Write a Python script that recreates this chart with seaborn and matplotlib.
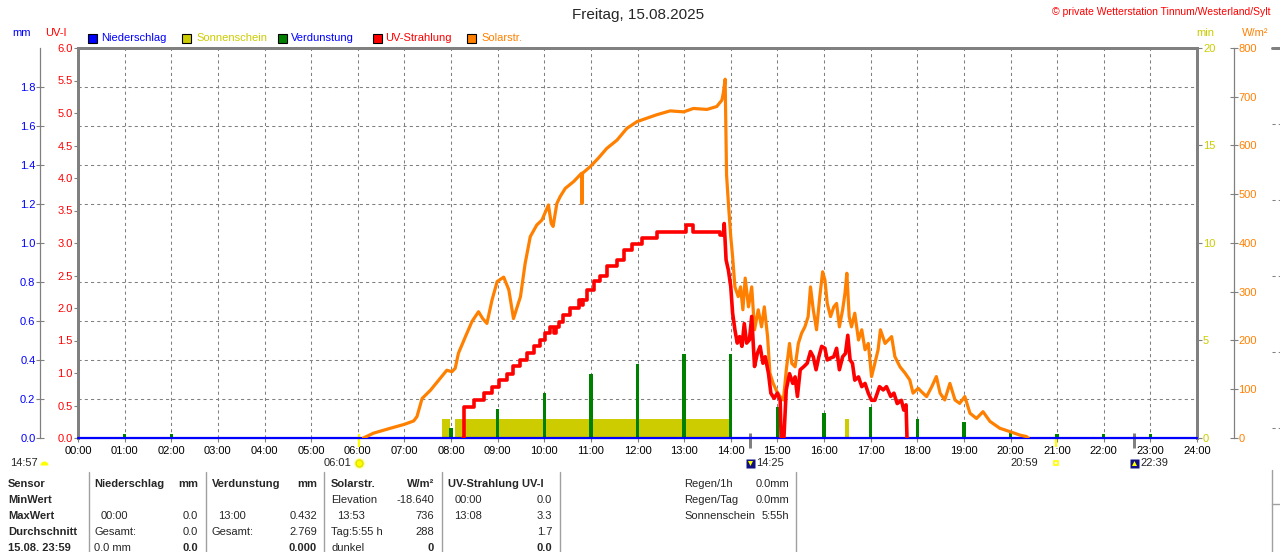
import numpy as np
import pandas as pd
import matplotlib
matplotlib.use("Agg")
import matplotlib.pyplot as plt
import seaborn as sns
from matplotlib.lines import Line2D
from matplotlib.patches import Rectangle
from matplotlib.ticker import FixedLocator

# ---------------- data ----------------
solar_time = [6.12, 6.34, 6.70, 7.00, 7.20, 7.27, 7.38, 7.56, 7.74, 7.91, 8.02, 8.09, 8.16, 8.31,
              8.45, 8.59, 8.68, 8.77, 8.88, 8.99, 9.13, 9.24, 9.34, 9.49, 9.59, 9.70, 9.84, 9.95,
              10.09, 10.15, 10.19, 10.27, 10.34, 10.45, 10.63, 10.80, 10.81, 10.82, 10.99, 11.16,
              11.34, 11.56, 11.77, 11.99, 12.20, 12.41, 12.70, 12.99, 13.20, 13.49, 13.70, 13.81,
              13.84, 13.88, 13.91, 13.95, 14.00, 14.04, 14.09, 14.16, 14.21, 14.26, 14.31, 14.38,
              14.45, 14.51, 14.59, 14.66, 14.72, 14.79, 14.84, 14.91, 14.99, 15.06, 15.13, 15.19,
              15.26, 15.31, 15.38, 15.45, 15.52, 15.59, 15.66, 15.71, 15.77, 15.84, 15.91, 15.97,
              16.02, 16.07, 16.14, 16.21, 16.27, 16.33, 16.40, 16.45, 16.49, 16.54, 16.59, 16.66,
              16.74, 16.81, 16.88, 16.95, 17.02, 17.09, 17.16, 17.21, 17.31, 17.38, 17.45, 17.52,
              17.63, 17.74, 17.84, 17.91, 18.02, 18.09, 18.20, 18.31, 18.41, 18.49, 18.59, 18.70,
              18.81, 18.91, 19.02, 19.13, 19.27, 19.41, 19.56, 19.77, 19.99, 20.20, 20.34, 20.38]
solar_wm2 = [0, 10, 20, 28, 35, 44, 81, 98, 119, 139, 136, 143, 174, 208,
             239, 259, 245, 235, 283, 321, 330, 304, 245, 290, 358, 413, 437, 447,
             478, 440, 434, 481, 495, 512, 526, 543, 481, 543, 557, 574,
             594, 611, 635, 649, 656, 663, 671, 669, 676, 674, 680, 693,
             707, 736, 540, 481, 413, 372, 310, 290, 310, 263, 328, 269,
             310, 222, 263, 228, 269, 208, 133, 112, 95, 85, 78, 139,
             194, 153, 146, 194, 215, 228, 249, 310, 263, 222, 290, 341,
             324, 276, 249, 269, 276, 228, 263, 297, 338, 249, 228, 256,
             201, 222, 181, 194, 126, 153, 181, 222, 194, 201, 208, 167,
             146, 133, 119, 92, 102, 95, 85, 105, 126, 92, 78, 112,
             78, 71, 85, 51, 40, 54, 34, 20, 13, 6, 3, 0]

# UV index: morning staircase and afternoon (noisy) part
uv_rise_time = [8.25, 8.27, 8.49, 8.70, 8.88, 9.02, 9.20, 9.34, 9.49, 9.63, 9.77, 9.91, 10.02,
                10.13, 10.20, 10.25, 10.31, 10.41, 10.56, 10.74, 10.80, 10.84, 10.91, 11.06,
                11.20, 11.34, 11.56, 11.70, 11.88, 12.09, 12.41, 13.05, 13.20, 13.77, 13.84]
uv_rise_index = [0.00, 0.48, 0.58, 0.69, 0.79, 0.89, 0.99, 1.10, 1.20, 1.30, 1.41, 1.51, 1.61,
                 1.71, 1.61, 1.71, 1.79, 1.89, 2.00, 2.12, 2.05, 2.12, 2.28, 2.41,
                 2.49, 2.64, 2.74, 2.89, 2.99, 3.07, 3.17, 3.27, 3.17, 3.12, 3.12]
uv_fall_time = [13.84, 13.86, 13.90, 13.95, 14.00, 14.04, 14.09, 14.14, 14.19, 14.24, 14.29,
                14.34, 14.40, 14.45, 14.51, 14.57, 14.63, 14.69, 14.74, 14.81, 14.86, 14.93,
                15.00, 15.06, 15.08, 15.14, 15.19, 15.26, 15.33, 15.38, 15.43, 15.49, 15.57,
                15.64, 15.71, 15.77, 15.83, 15.89, 15.95, 16.02, 16.07, 16.14, 16.21, 16.27,
                16.33, 16.40, 16.46, 16.51, 16.56, 16.61, 16.66, 16.74, 16.81, 16.88, 16.95,
                17.02, 17.09, 17.19, 17.27, 17.34, 17.43, 17.50, 17.57, 17.66, 17.71, 17.76,
                17.78]
uv_fall_index = [3.12, 3.30, 2.74, 2.58, 2.33, 1.92, 1.66, 1.46, 1.56, 1.41, 1.76,
                 1.46, 1.51, 1.87, 1.10, 1.30, 1.41, 1.15, 1.25, 0.99, 0.69, 0.61,
                 0.69, 0.58, 0.00, 0.00, 0.74, 0.99, 0.84, 0.94, 0.64, 1.05, 1.10,
                 1.15, 1.33, 1.25, 1.05, 1.25, 1.41, 1.38, 1.20, 1.23, 1.25, 1.38,
                 1.05, 1.25, 1.30, 1.58, 1.20, 1.15, 0.89, 0.94, 0.79, 0.84, 0.69,
                 0.58, 0.58, 0.79, 0.74, 0.79, 0.64, 0.69, 0.53, 0.58, 0.43, 0.51,
                 0.00]

evap_hour = [1, 2, 8, 9, 10, 11, 12, 13, 14, 15, 16, 17, 18, 19, 20, 21, 22, 23]
evap_mm = [0.02, 0.02, 0.05, 0.15, 0.23, 0.33, 0.38, 0.432, 0.43, 0.16, 0.13, 0.16,
           0.10, 0.08, 0.03, 0.02, 0.02, 0.02]

sun_start = [7.81, 8.09, 16.45]
sun_end = [7.97, 13.97, 16.53]
sun_min = [1.0, 1.0, 1.0]

rain_time = [0, 24]
rain_mm = [0.0, 0.0]

hour_labels = [f"{h:02d}:00" for h in range(25)]
uv_ticks = [0.0, 0.5, 1.0, 1.5, 2.0, 2.5, 3.0, 3.5, 4.0, 4.5, 5.0, 5.5, 6.0]
mm_ticks = [0.0, 0.2, 0.4, 0.6, 0.8, 1.0, 1.2, 1.4, 1.6, 1.8]
sun_ticks = [0, 5, 10, 15, 20]
solar_ticks = [0, 100, 200, 300, 400, 500, 600, 700, 800]

title = "Freitag, 15.08.2025"
copyright_txt = "\u00a9 private Wetterstation Tinnum/Westerland/Sylt"
legend_names = ["Niederschlag", "Sonnenschein", "Verdunstung", "UV-Strahlung", "Solarstr."]

# ---------------- style ----------------
C_RAIN, C_SUN, C_EVAP, C_UV, C_SOL = "#0000ff", "#cccc00", "#008000", "#ff0000", "#ff8000"
GRAY = "#808080"
sns.set_theme(style="white")
plt.rcParams['font.family'] = ['Liberation Sans', 'DejaVu Sans']
plt.rcParams['font.size'] = 8
plt.rcParams['axes.linewidth'] = 0.72

W, H = 1280, 552
fig = plt.figure(figsize=(W / 100, H / 100), dpi=100)
fig.patch.set_facecolor("white")
L, R, T, B = 78, 1197, 48, 438
PX = 0.72  # points per pixel
ax = fig.add_axes([L / W, 1 - B / H, (R - L) / W, (B - T) / H])
ax.set_facecolor("white")

def ftext(x, y, s, **kw):
    kw.setdefault("va", "center")
    kw.setdefault("fontsize", 8)
    fig.text(x / W, 1 - y / H, s, **kw)

# main axis: UV scale + grid
ax.set_xlim(0, 24)
ax.set_ylim(0, 6)
ax.set_xticks(range(25))
ax.set_xticklabels(hour_labels)
ax.set_yticks(uv_ticks)
ax.set_yticklabels([f"{v:.1f}" for v in uv_ticks])
ax.yaxis.set_minor_locator(FixedLocator([0.6 * i for i in range(1, 10)]))
ax.tick_params(axis="x", which="major", bottom=True, length=4 * PX, width=0.8, color=GRAY,
               pad=4 * PX, labelsize=8, labelcolor="black", direction="out")
ax.tick_params(axis="y", which="major", left=True, length=4 * PX, width=0.8, color=GRAY,
               pad=1.5 * PX, labelsize=8, labelcolor=C_UV, direction="out")
ax.tick_params(axis="y", which="minor", left=False, length=0)
ax.grid(axis="x", which="major", color=GRAY, lw=0.75, ls=(0, (3, 3)))
ax.grid(axis="y", which="minor", color=GRAY, lw=0.75, ls=(0, (3, 3)))
for s in ["left", "top", "right"]:
    ax.spines[s].set_color(GRAY)
    ax.spines[s].set_linewidth(3 * PX)
ax.spines["bottom"].set_color(GRAY)
ax.spines["bottom"].set_linewidth(0.8)

# sunshine axis (min)
ax_sun = ax.twinx()
ax_sun.bar(sun_start, sun_min, width=np.subtract(sun_end, sun_start), align="edge",
           color=C_SUN, lw=0)
ax_sun.set_ylim(0, 20)
ax_sun.set_yticks(sun_ticks)
ax_sun.tick_params(axis="y", right=True, length=5 * PX, width=0.8, color=GRAY,
                   pad=1 * PX, labelsize=8, labelcolor=C_SUN, direction="out")
for s in ax_sun.spines.values():
    s.set_visible(False)

# evaporation / rain axis (mm), on the left
ax_mm = ax.twinx()
ax_mm.bar(evap_hour, evap_mm, width=0.07, color=C_EVAP, lw=0)
sns.lineplot(x=rain_time, y=rain_mm, ax=ax_mm, color=C_RAIN, lw=1.6, clip_on=False,
             zorder=5)
ax_mm.set_ylim(0, 2)
ax_mm.yaxis.tick_left()
ax_mm.yaxis.set_label_position("left")
ax_mm.set_yticks(mm_ticks)
ax_mm.set_yticklabels([f"{v:.1f}" for v in mm_ticks])
ax_mm.tick_params(axis="y", left=True, right=False, length=8 * PX, width=0.8, color=GRAY,
                  pad=0.5 * PX, labelsize=8, labelcolor=C_RAIN, direction="inout")
for k, s in ax_mm.spines.items():
    s.set_visible(k == "left")
ax_mm.spines["left"].set_position(("outward", 38 * PX))
ax_mm.spines["left"].set_color(GRAY)
ax_mm.spines["left"].set_linewidth(0.9)
ax_mm.set_ylabel("")

# solar radiation axis (W/m2), outer right
ax_sol = ax.twinx()
df_sol = pd.DataFrame({"t": solar_time, "w": solar_wm2})
sns.lineplot(data=df_sol, x="t", y="w", ax=ax_sol, color=C_SOL, lw=2.3,
             estimator=None, sort=False)
ax_sol.set_ylim(0, 800)
ax_sol.set_yticks(solar_ticks)
ax_sol.tick_params(axis="y", right=True, length=8 * PX, width=0.8, color=GRAY,
                   pad=0.5 * PX, labelsize=8, labelcolor=C_SOL, direction="inout")
for k, s in ax_sol.spines.items():
    s.set_visible(k == "right")
ax_sol.spines["right"].set_position(("outward", 37 * PX))
ax_sol.spines["right"].set_color(GRAY)
ax_sol.spines["right"].set_linewidth(0.9)
ax_sol.set_ylabel("")

# UV line axis (same scale as main)
ax_uv = ax.twinx()
df_rise = pd.DataFrame({"t": uv_rise_time, "uv": uv_rise_index})
df_fall = pd.DataFrame({"t": uv_fall_time, "uv": uv_fall_index})
sns.lineplot(data=df_rise, x="t", y="uv", ax=ax_uv, color=C_UV, lw=2.6,
             estimator=None, sort=False, drawstyle="steps-post")
sns.lineplot(data=df_fall, x="t", y="uv", ax=ax_uv, color=C_UV, lw=2.6,
             estimator=None, sort=False)
ax_uv.set_ylim(0, 6)
ax_uv.set_yticks([])
ax_uv.set_ylabel("")
for s in ax_uv.spines.values():
    s.set_visible(False)
ax.set_xlim(0, 24)
ax.set_xlabel("")

# ---------------- header texts ----------------
ftext(638, 15, title, ha="center", fontsize=11)
ftext(1270, 12, copyright_txt, ha="right", fontsize=7.5, color="red")
ftext(22, 33, "mm", ha="center", color=C_RAIN)
ftext(56, 33, "UV-I", ha="center", color=C_UV)
ftext(1205, 33, "min", ha="center", color=C_SUN)
ftext(1255, 33, "W/m\u00b2", ha="center", color=C_SOL)

leg_sq = [88, 182, 277.5, 372.5, 467]
leg_tx = [101, 196, 290.5, 385.5, 481.5]
leg_fc = [C_RAIN, C_SUN, C_EVAP, C_UV, C_SOL]
leg_tc = [C_RAIN, C_SUN, C_RAIN, C_UV, C_SOL]
for xs, xt_, fc, tc, name in zip(leg_sq, leg_tx, leg_fc, leg_tc, legend_names):
    fig.add_artist(Rectangle((xs / W, 1 - 43 / H), 9 / W, 9 / H, transform=fig.transFigure,
                             facecolor=fc, edgecolor="black", lw=0.8))
    ftext(xt_, 38, name, ha="left", color=tc)

# ---------------- sun / moon markers under the axis ----------------
xt = ax.get_xaxis_transform()
def ay(y):
    return (B - y) / (B - T)

for t in [6.0167, 20.983]:
    ax.plot([t, t], [ay(434), ay(447)], transform=xt, color="#ffff00", lw=2.2 * PX,
            clip_on=False, solid_capstyle="butt")
for t in [14.4167, 22.65]:
    ax.plot([t, t], [ay(433), ay(448)], transform=xt, color=GRAY, lw=3 * PX,
            clip_on=False, solid_capstyle="butt")

ax.plot([6.0167], [ay(463)], transform=xt, marker="o", ms=11 * PX, color="#ffffa0",
        mec="none", clip_on=False)
ax.plot([6.0167], [ay(463)], transform=xt, marker="o", ms=7 * PX, color="#ffff00",
        mec="#e0e000", clip_on=False)
ax.plot([20.983], [ay(463)], transform=xt, marker="s", ms=5 * PX, mfc="white",
        mec="#ffff00", mew=1.2, clip_on=False)
for t, mk in [(14.4167, "v"), (22.65, "^")]:
    ax.plot([t], [ay(463)], transform=xt, marker="s", ms=9 * PX, color="#101080",
            mec="none", clip_on=False)
    ax.plot([t], [ay(463)], transform=xt, marker=mk, ms=5 * PX, color="#ffff00",
            mec="none", clip_on=False)

ftext(10, 463, "14:57", ha="left")
fig.add_artist(Line2D([44 / W], [1 - 465 / H], marker="o", ms=8 * PX, color="#ffff00",
                      fillstyle="top", mec="none", transform=fig.transFigure))
ftext(351, 463, "06:01", ha="right")
ftext(756, 463, "14:25", ha="left")
ftext(1038, 463, "20:59", ha="right")
ftext(1140, 463, "22:39", ha="left")

# ---------------- table ----------------
rows_y = [484, 500, 516, 532, 548]
table = [
    (8, 0, "Sensor", "left", True), (94.5, 0, "Niederschlag", "left", True),
    (198, 0, "mm", "right", True), (212, 0, "Verdunstung", "left", True),
    (317, 0, "mm", "right", True), (331, 0, "Solarstr.", "left", True),
    (434, 0, "W/m\u00b2", "right", True), (448.5, 0, "UV-Strahlung UV-I", "left", True),
    (8, 1, "MinWert", "left", True), (331, 1, "Elevation", "left", False),
    (434, 1, "-18.640", "right", False), (454.5, 1, "00:00", "left", False),
    (552, 1, "0.0", "right", False),
    (8, 2, "MaxWert", "left", True), (100.5, 2, "00:00", "left", False),
    (198, 2, "0.0", "right", False), (218, 2, "13:00", "left", False),
    (317, 2, "0.432", "right", False), (337, 2, "13:53", "left", False),
    (434, 2, "736", "right", False), (454.5, 2, "13:08", "left", False),
    (552, 2, "3.3", "right", False),
    (8, 3, "Durchschnitt", "left", True), (94.5, 3, "Gesamt:", "left", False),
    (198, 3, "0.0", "right", False), (212, 3, "Gesamt:", "left", False),
    (317, 3, "2.769", "right", False), (331, 3, "Tag:5:55 h", "left", False),
    (434, 3, "288", "right", False), (552, 3, "1.7", "right", False),
    (8, 4, "15.08. 23:59", "left", True), (94.5, 4, "0.0 mm", "left", False),
    (198, 4, "0.0", "right", True), (317, 4, "0.000", "right", True),
    (331, 4, "dunkel", "left", False), (434, 4, "0", "right", True),
    (552, 4, "0.0", "right", True),
    (684.5, 0, "Regen/1h", "left", False), (789.5, 0, "0.0mm", "right", False),
    (684.5, 1, "Regen/Tag", "left", False), (789.5, 1, "0.0mm", "right", False),
    (684.5, 2, "Sonnenschein", "left", False), (789.5, 2, "5:55h", "right", False),
]
for x, r, s, ha, bold in table:
    ftext(x, rows_y[r], s, ha=ha, fontweight="bold" if bold else "normal")

for xs in [88.8, 205.5, 324, 442, 559.5, 796]:
    fig.add_artist(Line2D([xs / W, xs / W], [1 - 472 / H, 0], color="#a0a0a0", lw=1,
                          transform=fig.transFigure))
fig.add_artist(Line2D([1271.5 / W, 1271.5 / W], [1 - 470 / H, 0], color="#a0a0a0", lw=1,
                      transform=fig.transFigure))
fig.add_artist(Line2D([1271.5 / W, 1], [1 - 504 / H, 1 - 504 / H], color="#a0a0a0", lw=1,
                      transform=fig.transFigure))
# cut-off neighbour frame at far right
fig.add_artist(Line2D([1272 / W, 1], [1 - 48 / H, 1 - 48 / H], color=GRAY, lw=3 * PX,
                      transform=fig.transFigure))
for yy in [124, 200, 276, 352, 428]:
    fig.add_artist(Line2D([1272 / W, 1], [1 - yy / H, 1 - yy / H], color=GRAY, lw=0.75,
                          ls=(0, (3, 3)), transform=fig.transFigure))

fig.savefig("out.png", dpi=100, facecolor="white")
